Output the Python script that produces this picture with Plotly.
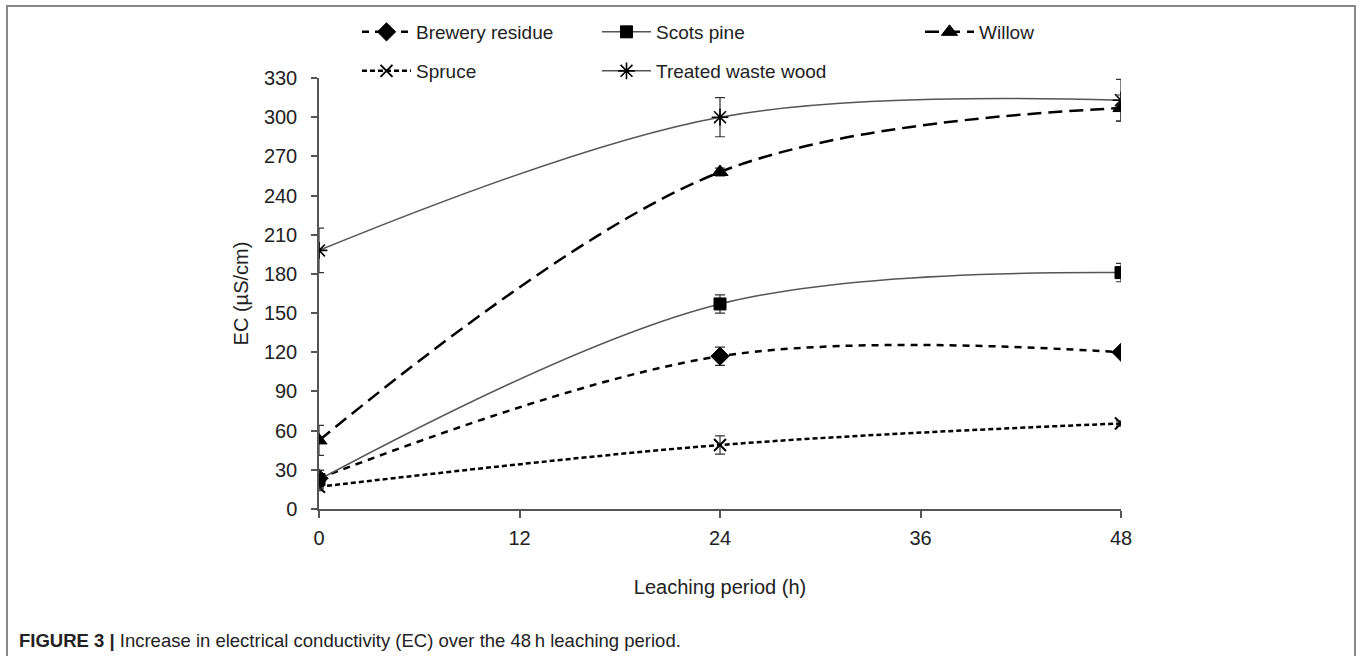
import plotly.graph_objects as go

hours = [0, 24, 48]
brewery = [23.5, 117, 120]
brewery_err = [6, 7, 2]
scots = [22.5, 157, 181]
scots_err = [7, 7, 7]
willow = [52.5, 258, 307]
willow_err = [11.5, 3, 10]
spruce = [17, 49, 65.5]
spruce_err = [3, 7, 2]
tww = [198, 300, 313]
tww_err = [17, 15, 16]

x_ticks = [0, 12, 24, 36, 48]
y_ticks = list(range(0, 331, 30))

FONT = "Liberation Sans, Arial, sans-serif"
NARROW = "Liberation Sans Narrow, Arial Narrow, Liberation Sans, sans-serif"

# plot-area pixel frame
L, R, T, B = 319, 1121, 78, 509
W, H = R - L, B - T
def px(xp):
    return (xp - L) / W
def py(yp):
    return (B - yp) / H

fig = go.Figure()

def add(name, y, err, symbol, size, dash, width, color, legend, mline=1):
    fig.add_trace(go.Scatter(
        x=hours, y=y, name=name, mode="lines+markers", showlegend=True,
        line=dict(shape="spline", smoothing=1, dash=dash, width=width, color=color),
        marker=dict(symbol=symbol, size=size, color="black",
                    line=dict(color="black", width=mline)),
        error_y=dict(type="data", array=err, visible=True, color="#333", thickness=1.2, width=5),
        legend=legend,
    ))

add("Brewery residue", brewery, brewery_err, "diamond", 14, "7px,6px", 2.5, "black", "legend")
add("Spruce", spruce, spruce_err, "x-thin-open", 12, "5px,3px", 2.5, "black", "legend2", 2)
add("Scots pine", scots, scots_err, "square", 12, "solid", 1.5, "#555", "legend3")
add("Treated waste wood", tww, tww_err, "asterisk-open", 14, "solid", 1.5, "#555", "legend4", 1.6)
add("Willow", willow, willow_err, "triangle-up", 14, "14px,7px", 2.5, "black", "legend5")

def leg(xpix, ypix):
    return dict(x=px(xpix), y=py(ypix), xanchor="left", yanchor="middle",
                font=dict(family=FONT, size=19, color="#222"), bgcolor="rgba(0,0,0,0)",
                orientation="v", itemwidth=49, visible=True)

fig.update_layout(
    width=1360, height=656, showlegend=True,
    margin=dict(l=L, r=1360 - R, t=T, b=656 - B, autoexpand=False),
    paper_bgcolor="white", plot_bgcolor="white",
    font=dict(family=FONT, size=20, color="#222"),
    legend=leg(357, 32),
    legend2=leg(357, 71),
    legend3=leg(597, 32),
    legend4=leg(597, 71),
    legend5=leg(920, 32),
    xaxis=dict(range=[0, 48], tickvals=x_ticks, showgrid=False, zeroline=False,
               showline=True, linecolor="#555", linewidth=1.5, ticks="outside", ticklen=7,
               tickcolor="#555", tickwidth=1.5, tickfont=dict(size=20), ticklabelstandoff=3,
               automargin=False,
               title=dict(text="Leaching period (h)", font=dict(size=20), standoff=32)),
    yaxis=dict(range=[0, 330], tickvals=y_ticks, showgrid=False, zeroline=False,
               showline=True, linecolor="#555", linewidth=1.5, ticks="outside", ticklen=6,
               tickcolor="#555", tickwidth=1.5, tickfont=dict(size=20), ticklabelstandoff=10,
               automargin=False,
               title=dict(text="EC (µS/cm)", font=dict(size=20), standoff=10)),
    shapes=[dict(type="rect", xref="paper", yref="paper",
                 x0=px(7), x1=px(1355), y0=py(700), y1=py(6),
                 line=dict(color="#888", width=2), fillcolor="rgba(0,0,0,0)", layer="below")],
    annotations=[dict(xref="paper", yref="paper", x=px(17), y=py(640), xanchor="left", yanchor="middle",
                      showarrow=False, align="left",
                      text="<b>FIGURE 3 |</b> Increase in electrical conductivity (EC) over the 48\u2009h leaching period.",
                      font=dict(family=NARROW, size=18.5, color="#222"))],
)

fig.write_html("out.html", config={"displayModeBar": False},
               post_script="document.body.style.margin='0';document.body.style.overflow='hidden';")
